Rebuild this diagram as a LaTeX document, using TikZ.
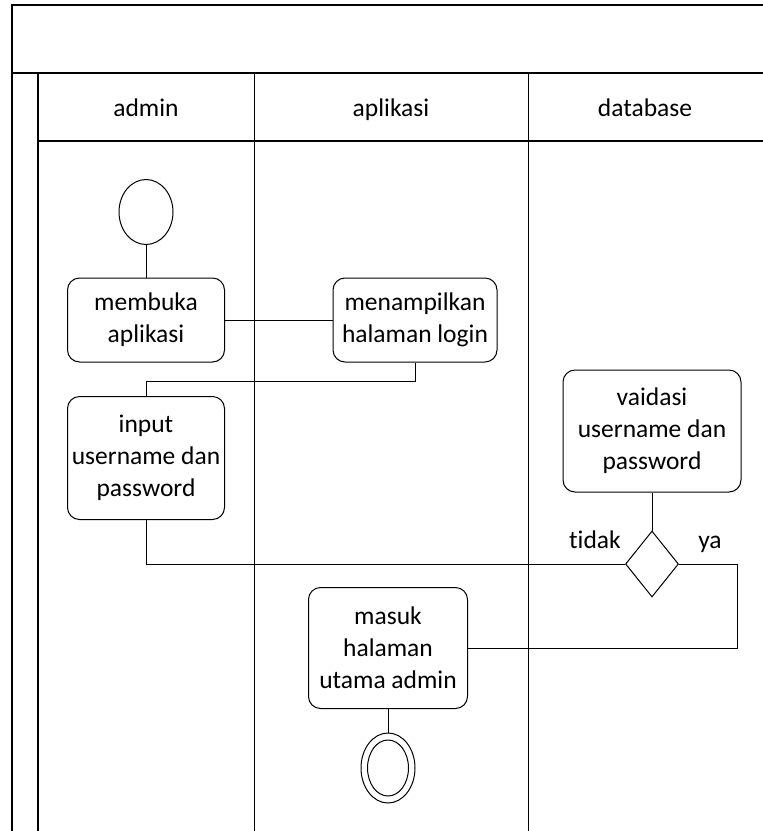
\documentclass[tikz,border=0pt]{standalone}
\usepackage{fontspec}
\setmainfont{Carlito}[Ligatures=NoCommon]
\usetikzlibrary{shapes.geometric}
\begin{document}
\begin{tikzpicture}[x=1pt,y=-1pt,
  frame/.style={line width=1.3pt},
  conn/.style={line width=1pt},
  act/.style={draw, line width=1pt, rounded corners=12pt, align=center, inner sep=0pt, font=\fontsize{25.5}{32}\selectfont},
  lbl/.style={inner sep=0pt, anchor=base, font=\fontsize{25.5}{32}\selectfont}]
\useasboundingbox (0,0) rectangle (763,831);
% frame
\draw[frame] (12,831) -- (12,5) -- (763,5);
\draw[frame] (12,73) -- (763,73);
\draw[frame] (38,831) -- (38,73);
\draw[frame] (38,141) -- (763,141);
\draw[conn] (254,73) -- (254,831);
\draw[conn] (528,73) -- (528,831);
% headers
\node[lbl] (h1) at (146,116) {admin};
\node[lbl] (h2) at (391,116) {aplikasi};
\node[lbl] (h3) at (645,116) {database};
% nodes
\node[draw, line width=1pt, ellipse, minimum width=54pt, minimum height=65pt, inner sep=0pt] (start) at (146,212) {};
\node[act, minimum width=157pt, minimum height=84pt] (buka) at (146,320) {membuka\\aplikasi};
\node[act, minimum width=164pt, minimum height=84pt] (login) at (415,320) {menampilkan\\halaman login};
\node[act, minimum width=157pt, minimum height=123pt] (input) at (146,458) {input\\username dan\\password};
\node[act, minimum width=178pt, minimum height=122pt] (valid) at (652,431) {vaidasi\\username dan\\password};
\node[draw, line width=1pt, diamond, minimum width=53pt, minimum height=66pt, inner sep=0pt] (dec) at (652,564) {};
\node[act, minimum width=159pt, minimum height=121pt] (masuk) at (388,648) {masuk\\halaman\\utama admin};
\node[draw, line width=1pt, ellipse, minimum width=54pt, minimum height=70pt, inner sep=0pt] (end) at (388,768) {};
\node[draw, line width=1pt, ellipse, minimum width=41pt, minimum height=56pt, inner sep=0pt] (endin) at (388,768) {};
\node[lbl] (tidak) at (595,548) {tidak};
\node[lbl] (ya) at (710,548) {ya};
% connectors
\draw[conn] (start) -- (buka);
\draw[conn] (buka) -- (login);
\draw[conn] (login.south) -- ++(0,19) -| (input.north);
\draw[conn] (input.south) |- (dec.west);
\draw[conn] (valid) -- (dec);
\draw[conn] (dec.east) -- ++(58,0) |- (masuk.east);
\draw[conn] (masuk) -- (end);
\end{tikzpicture}
\end{document}
